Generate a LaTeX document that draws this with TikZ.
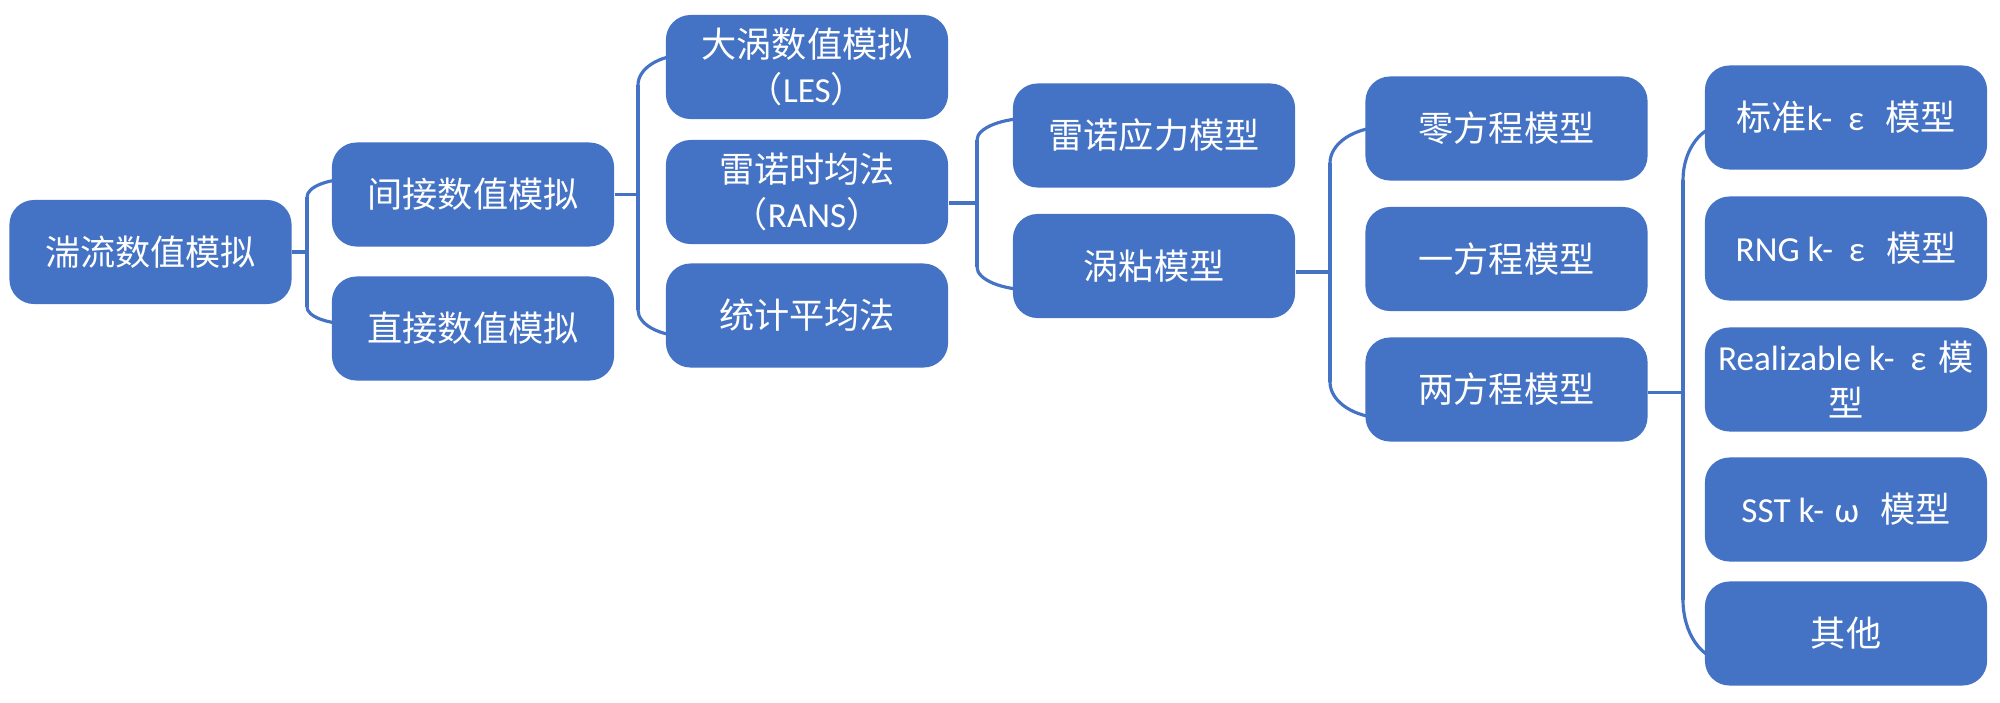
\documentclass[tikz,border=0pt]{standalone}
\usepackage{fontspec}
\setmainfont{Carlito}
\newfontfamily\cjk{Noto Sans CJK SC}
\usetikzlibrary{calc,backgrounds}
\definecolor{boxblue}{HTML}{4472C4}
\newcommand\latn[1]{{\rmfamily #1}}
\tikzset{
  box/.style={fill=boxblue, rounded corners=7pt, minimum width=2.82cm, minimum height=1.04cm,
    inner sep=0pt, text=white, align=center, font=\fontsize{10}{13}\selectfont\cjk},
  conn/.style={draw=boxblue, line width=0.9pt},
  brk/.style={to path={.. controls ($(\tikztostart)!0.55!(\tikztostart|-\tikztotarget)$) and ($(\tikztotarget)!0.55!(\tikztostart|-\tikztotarget)$) .. (\tikztotarget)}}
}
\begin{document}
\begin{tikzpicture}[x=0.01cm,y=-0.01cm]
\useasboundingbox (0,0) rectangle (2000,702);
% nodes
\node[box] (A) at (150.5,252) {湍流数值模拟};
\node[box] (B) at (473,194.5) {间接数值模拟};
\node[box] (C) at (473,328.5) {直接数值模拟};
\node[box] (D) at (807,67) {大涡数值模拟\\（\latn{LES}）};
\node[box] (E) at (807,192) {雷诺时均法\\（\latn{RANS}）};
\node[box] (F) at (807,315.5) {统计平均法};
\node[box] (G) at (1154,135.5) {雷诺应力模型};
\node[box] (H) at (1154,266) {涡粘模型};
\node[box] (I) at (1506.5,128.5) {零方程模型};
\node[box] (J) at (1506.5,259) {一方程模型};
\node[box] (K) at (1506.5,389.5) {两方程模型};
\node[box] (L) at (1846,117.5) {标准\latn{k-\hspace{0.45em}ε\hspace{0.6em}}模型};
\node[box] (M) at (1846,248.5) {\latn{RNG k-\hspace{0.45em}ε\hspace{0.6em}}模型};
\node[box] (N) at (1846,379.5) {\latn{Realizable k-\hspace{0.45em}ε\hspace{0.35em}}模\\型};
\node[box] (O) at (1846,509.5) {\latn{SST k-\hspace{0.3em}ω\hspace{0.6em}}模型};
\node[box] (P) at (1846,633.5) {其他};
% bracket points
\coordinate (v1t) at (307,197);  \coordinate (v1b) at (307,307);
\coordinate (v2t) at (638,85);   \coordinate (v2b) at (638,310);
\coordinate (v3t) at (977,140);  \coordinate (v3b) at (977,267);
\coordinate (v4t) at (1330,163); \coordinate (v4b) at (1330,382);
\coordinate (v5t) at (1683,180); \coordinate (v5b) at (1683,600);
\coordinate (e1t) at ($(B.west)+(20,-15.5)$); \coordinate (e1b) at ($(C.west)+(20,-4.5)$);
\coordinate (e2t) at ($(D.west)+(20,-12)$);   \coordinate (e2b) at ($(F.west)+(20,20.5)$);
\coordinate (e3t) at ($(G.west)+(20,-17.5)$); \coordinate (e3b) at ($(H.west)+(20,24)$);
\coordinate (e4t) at ($(I.west)+(20,-1.5)$);  \coordinate (e4b) at ($(K.west)+(20,28.5)$);
\coordinate (e5t) at ($(L.west)+(20,7.5)$);   \coordinate (e5b) at ($(P.west)+(20,26.5)$);
\coordinate (p1) at (A.east);
\coordinate (p2) at (B.east);
\coordinate (p3) at ($(E.east)+(0,11)$);
\coordinate (p4) at ($(H.east)+(0,6)$);
\coordinate (p5) at ($(K.east)+(0,3)$);
\begin{scope}[on background layer]
\foreach \i in {1,...,5}{
  \draw[conn] (p\i) -- (p\i -| v\i t);
  \draw[conn] (v\i t) -- (v\i b);
  \draw[conn] (v\i t) to[brk] (e\i t);
  \draw[conn] (v\i b) to[brk] (e\i b);
}
\end{scope}
\end{tikzpicture}
\end{document}
